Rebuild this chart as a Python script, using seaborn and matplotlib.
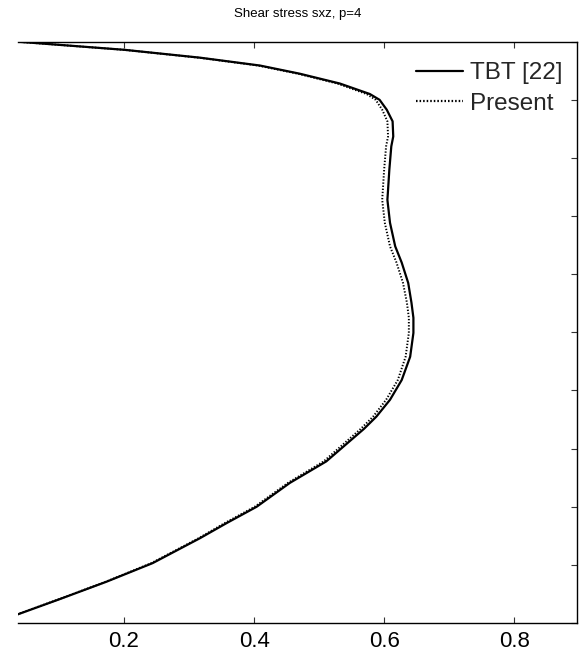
import matplotlib
matplotlib.use("Agg")
import matplotlib.pyplot as plt
import numpy as np
import pandas as pd
import seaborn as sns

# Through-thickness coordinate z/h
z = [0.500, 0.486, 0.4725, 0.459, 0.445, 0.428, 0.410, 0.400, 0.383, 0.363,
     0.337, 0.320, 0.280, 0.245, 0.228, 0.1885, 0.148, 0.120, 0.085, 0.051,
     0.025, -0.001, -0.042, -0.082, -0.116, -0.145, -0.166, -0.222, -0.259,
     -0.300, -0.328, -0.354, -0.397, -0.429, -0.459, -0.485, -0.500]

# Transverse shear stress, reference TBT solution
sxz_tbt = [0.037, 0.201, 0.317, 0.409, 0.470, 0.532, 0.578, 0.593, 0.604, 0.613,
           0.614, 0.611, 0.608, 0.606, 0.605, 0.609, 0.617, 0.627, 0.637, 0.642,
           0.645, 0.645, 0.640, 0.627, 0.609, 0.588, 0.569, 0.511, 0.455,
           0.404, 0.358, 0.317, 0.244, 0.173, 0.101, 0.037, 0.000]

# Transverse shear stress, present model
sxz_present = [0.036, 0.200, 0.315, 0.406, 0.467, 0.528, 0.573, 0.587, 0.597, 0.605,
               0.606, 0.603, 0.600, 0.598, 0.597, 0.601, 0.609, 0.619, 0.629, 0.635,
               0.638, 0.638, 0.633, 0.621, 0.603, 0.583, 0.564, 0.507, 0.452,
               0.401, 0.355, 0.315, 0.242, 0.172, 0.100, 0.036, 0.000]

series_names = ["TBT [22]", "Present"]
xtick_values = [0.2, 0.4, 0.6, 0.8]
xtick_labels = ["0.2", "0.4", "0.6", "0.8"]
ytick_values = [-0.5, -0.4, -0.3, -0.2, -0.1, 0.0, 0.1, 0.2, 0.3, 0.4, 0.5]

sns.set_theme(style="white")
plt.rcParams["font.family"] = ["Liberation Sans", "DejaVu Sans"]

df_tbt = pd.DataFrame({"sxz": sxz_tbt, "z": z})
df_pre = pd.DataFrame({"sxz": sxz_present, "z": z})

fig = plt.figure(figsize=(5.81, 6.52), dpi=100)
ax = fig.add_axes([18 / 581, 1 - 623 / 652, (577.3 - 18) / 581, (623 - 41.7) / 652])

sns.lineplot(data=df_tbt, x="sxz", y="z", sort=False, estimator=None, ax=ax,
             color="black", linewidth=1.6, label=series_names[0])
sns.lineplot(data=df_pre, x="sxz", y="z", sort=False, estimator=None, ax=ax,
             color="black", linewidth=1.4, linestyle=(0, (0.7, 0.9)),
             label=series_names[1])

ax.set_xlim(0.037, 0.897)
ax.set_ylim(-0.5, 0.5)
ax.set_xlabel("")
ax.set_ylabel("")

ax.set_xticks(xtick_values)
ax.set_xticklabels(xtick_labels)
ax.set_yticks(ytick_values)
ax.tick_params(axis="x", direction="in", length=4, width=0.8, color="#333333",
               top=True, bottom=True, labelsize=16, pad=6, labelcolor="black")
ax.tick_params(axis="y", direction="in", length=4, width=0.8, color="#333333",
               left=False, right=True, labelleft=False, labelright=False)

for side in ["top", "bottom", "right"]:
    ax.spines[side].set_visible(True)
    ax.spines[side].set_color("black")
    ax.spines[side].set_linewidth(1.0)
ax.spines["left"].set_visible(False)

ax.set_title("Shear stress sxz, p=4", fontsize=9.5, pad=18, color="black")

leg = ax.legend(loc="upper right", frameon=False, fontsize=17.5, handlelength=1.95,
                handletextpad=0.3, labelspacing=0.35, borderaxespad=0.2,
                bbox_to_anchor=(1.0, 0.99))
for h in leg.get_lines():
    h.set_linewidth(1.6)

fig.savefig("out.png", dpi=100)
